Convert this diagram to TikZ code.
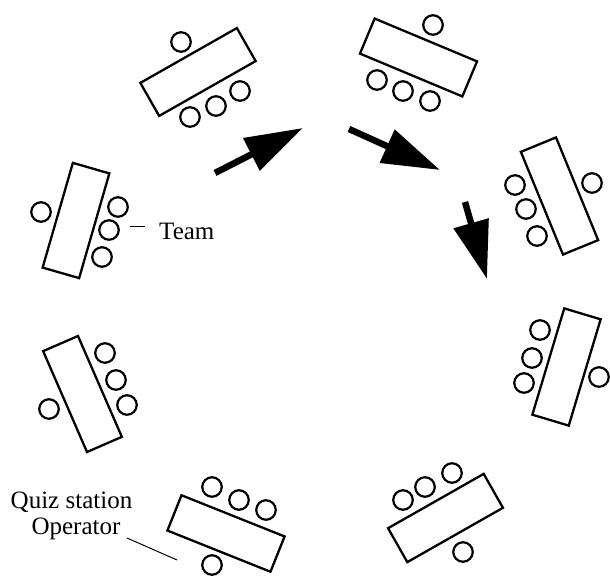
\documentclass[tikz,border=0pt]{standalone}
\usepackage{fontspec}
\setmainfont{Liberation Serif}
\usetikzlibrary{arrows.meta}
\begin{document}
\begin{tikzpicture}[x=1pt,y=-1pt,
  tablebox/.style={draw, line width=2.3pt, rectangle, minimum width=111pt, minimum height=38pt, inner sep=0pt},
  seat/.style={draw, circle, line width=2.2pt, minimum size=19.5pt, inner sep=0pt},
  bigarrow/.style={line width=6.5pt, -{Triangle[length=58pt,width=35pt]}},
  lbl/.style={font=\fontsize{25}{28}\selectfont, inner sep=0pt},
  thinline/.style={line width=1pt}]
\useasboundingbox (0,0) rectangle (610,577);
% station 1 (top left)
\node[tablebox, rotate=29.6] (t1) at (198,72) {};
\node[seat] (o1) at (181,42) {};
\node[seat] (p1a) at (190,117) {};
\node[seat] (p1b) at (216,106) {};
\node[seat] (p1c) at (240,91) {};
% station 2 (top right)
\node[tablebox, rotate=-22.7] (t2) at (418.5,57.5) {};
\node[seat] (o2) at (433,25) {};
\node[seat] (p2a) at (377,80) {};
\node[seat] (p2b) at (403,91) {};
\node[seat] (p2c) at (430,101) {};
% station 3 (right upper)
\node[tablebox, rotate=112.3] (t3) at (559.5,196) {};
\node[seat] (o3) at (592,183) {};
\node[seat] (p3a) at (515,185) {};
\node[seat] (p3b) at (526,209) {};
\node[seat] (p3c) at (537,236) {};
% station 4 (right lower)
\node[tablebox, rotate=73.3] (t4) at (566.5,367) {};
\node[seat] (o4) at (599,377) {};
\node[seat] (p4a) at (540,330) {};
\node[seat] (p4b) at (532,358) {};
\node[seat] (p4c) at (524,383) {};
% station 5 (bottom right)
\node[tablebox, rotate=29.6, minimum width=110pt, minimum height=39pt] (t5) at (445.5,518) {};
\node[seat] (o5) at (463,552) {};
\node[seat] (p5a) at (403,500) {};
\node[seat] (p5b) at (425,487) {};
\node[seat] (p5c) at (452,473) {};
% station 6 (bottom left)
\node[tablebox, rotate=-21.8] (t6) at (226,533.5) {};
\node[seat] (o6) at (212,565) {};
\node[seat] (p6a) at (212,487) {};
\node[seat] (p6b) at (239,500) {};
\node[seat] (p6c) at (266,510) {};
% station 7 (left upper)
\node[tablebox, rotate=73.9, minimum width=109pt] (t7) at (76,220.5) {};
\node[seat] (o7) at (41,212) {};
\node[seat] (p7a) at (118,207) {};
\node[seat] (p7b) at (109,230) {};
\node[seat] (p7c) at (102,257) {};
% station 8 (left lower)
\node[tablebox, rotate=113.5, minimum width=110pt] (t8) at (82.5,394) {};
\node[seat] (o8) at (49,409) {};
\node[seat] (p8a) at (105,353) {};
\node[seat] (p8b) at (116,380) {};
\node[seat] (p8c) at (127,405) {};
% arrows
\coordinate (a1s) at (215,173); \coordinate (a1e) at (303,128);
\coordinate (a2s) at (349,129); \coordinate (a2e) at (440,170);
\coordinate (a3s) at (465,202); \coordinate (a3e) at (487,279);
\draw[bigarrow] (a1s) -- (a1e);
\draw[bigarrow] (a2s) -- (a2e);
\draw[bigarrow] (a3s) -- (a3e);
% labels
\node[lbl, anchor=base west] (team) at (159,240) {Team};
\coordinate (tl1) at (130,227); \coordinate (tl2) at (145,227);
\draw[thinline] (tl1) -- (tl2);
\node[lbl, anchor=base] (q1) at (71.5,508) {Quiz station};
\node[lbl, anchor=base] (q2) at (76,534) {Operator};
\coordinate (ql1) at (127,538); \coordinate (ql2) at (177,560);
\draw[thinline] (ql1) -- (ql2);
\end{tikzpicture}
\end{document}
